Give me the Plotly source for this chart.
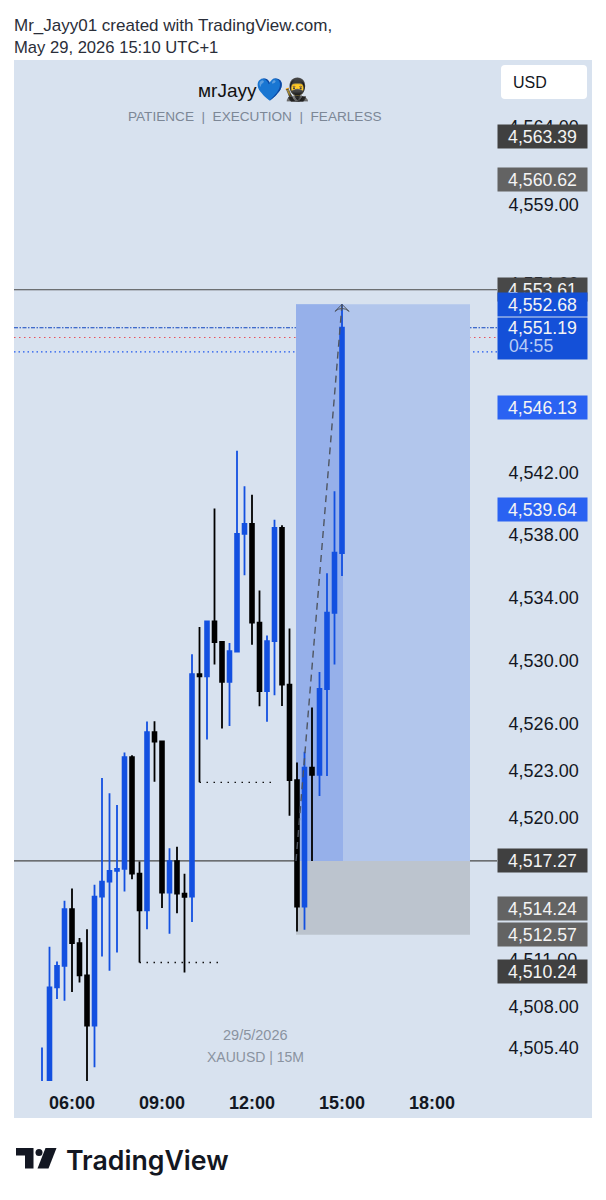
import pandas as pd
import plotly.graph_objects as go

W, H = 606, 1200
FONT = "Liberation Sans"
BG = "#D8E2EF"
BLUE = "#1350E0"

# ---- candle data (15 minute bars from 05:00) ----
start_time = "2026-05-29 05:00"
opens = [4502.0, 4502.5, 4509.23, 4510.60, 4514.20, 4512.04, 4509.99, 4506.79, 4515.00, 4515.96,
         4516.64, 4516.76, 4523.88, 4516.46, 4514.12, 4525.46, 4524.87, 4515.26, 4517.25, 4515.19,
         4515.00, 4529.15, 4529.02, 4532.51, 4531.20, 4528.66, 4530.59, 4538.08, 4538.71, 4532.43,
         4528.08, 4531.26, 4538.46, 4528.49, 4522.41, 4514.37, 4523.20, 4522.75, 4528.21, 4533.06,
         4536.85]
highs = [4505.40, 4511.81, 4510.88, 4514.73, 4515.51, 4512.36, 4512.93, 4515.75, 4522.54, 4521.57,
         4520.83, 4524.17, 4524.00, 4517.23, 4526.14, 4526.16, 4524.87, 4518.08, 4518.18, 4516.45,
         4530.42, 4532.16, 4532.57, 4539.69, 4531.20, 4531.13, 4543.37, 4541.10, 4540.56, 4534.48,
         4531.62, 4538.97, 4538.63, 4532.05, 4523.54, 4524.21, 4527.03, 4529.29, 4535.58, 4540.79,
         4552.68]
lows = [4500.0, 4500.0, 4508.49, 4508.38, 4508.93, 4509.54, 4502.0, 4504.15, 4511.19, 4510.29,
        4511.45, 4515.32, 4516.11, 4510.81, 4512.93, 4522.31, 4514.27, 4512.64, 4513.95, 4510.18,
        4513.38, 4522.27, 4525.00, 4529.76, 4525.70, 4525.86, 4530.59, 4535.45, 4531.03, 4527.11,
        4526.12, 4527.81, 4527.13, 4520.15, 4512.78, 4512.89, 4517.27, 4521.40, 4522.67, 4529.76,
        4535.39]
closes = [4503.0, 4509.23, 4510.60, 4514.20, 4512.04, 4509.99, 4506.79, 4515.00, 4515.96, 4516.64,
          4516.76, 4523.88, 4516.46, 4514.12, 4525.46, 4524.87, 4515.26, 4517.25, 4515.19, 4514.99,
          4529.15, 4529.02, 4532.51, 4531.20, 4528.66, 4530.61, 4538.08, 4538.71, 4532.43, 4528.08,
          4531.26, 4538.46, 4528.49, 4522.41, 4514.37, 4523.20, 4522.75, 4528.21, 4533.06, 4536.89,
          4551.19]

# ---- axes ----
price_ticks = [4564, 4559, 4554, 4542, 4538, 4534, 4530, 4526, 4523, 4520, 4511, 4508, 4505.4]
price_tick_text = ["4,564.00", "4,559.00", "4,554.00", "4,542.00", "4,538.00", "4,534.00", "4,530.00",
                   "4,526.00", "4,523.00", "4,520.00", "4,511.00", "4,508.00", "4,505.40"]
time_ticks = ["2026-05-29 06:00", "2026-05-29 09:00", "2026-05-29 12:00", "2026-05-29 15:00", "2026-05-29 18:00"]
time_tick_text = ["06:00", "09:00", "12:00", "15:00", "18:00"]
x_range = ["2026-05-29 04:04", "2026-05-29 20:10"]
y_range = [4503.27, 4568.225]

# ---- price tags: value, text, colour ----
tag_values = [4563.39, 4560.62, 4553.61, 4552.68, 4546.13, 4539.64, 4517.27, 4514.24, 4512.57, 4510.24]
tag_colors = ["#404040", "#636363", "#484848", "#1450D8", "#2A62F2", "#2A62F2",
              "#404040", "#636363", "#636363", "#404040"]
last_price = 4551.19
countdown = "04:55"

# ---- drawings ----
level_lines = [4553.61, 4517.27]
last_line = 4551.19
red_line = 4550.57
blue_dotted = 4549.66
pos_left = "2026-05-29 13:28"
pos_mid = "2026-05-29 15:02"
pos_right = "2026-05-29 19:16"
pos_top = 4552.68
pos_entry = 4517.27
pos_stop = 4512.57
dotted_a = ("2026-05-29 10:15", "2026-05-29 12:38", 4522.27)
dotted_b = ("2026-05-29 08:15", "2026-05-29 10:58", 4510.81)
arrow_times = ["2026-05-29 13:28", "2026-05-29 15:00"]
arrow_prices = [4517.27, 4552.68]


def px(x):
    return x / W


def py(y):
    return 1 - y / H


times = pd.date_range(start_time, periods=len(opens), freq="15min")

fig = go.Figure()
fig.add_trace(go.Candlestick(
    x=times, open=opens, high=highs, low=lows, close=closes,
    increasing=dict(line=dict(color=BLUE, width=1.8), fillcolor=BLUE),
    decreasing=dict(line=dict(color="#000000", width=1.8), fillcolor="#000000"),
    whiskerwidth=0, hoverinfo="skip", showlegend=False,
))
fig.add_trace(go.Scatter(
    x=arrow_times, y=arrow_prices, mode="lines",
    line=dict(color="#4F5560", width=1.4, dash="7px,5px"),
    hoverinfo="skip", showlegend=False,
))
fig.add_trace(go.Scatter(
    x=arrow_times[1:], y=arrow_prices[1:], mode="markers",
    marker=dict(symbol="arrow-wide-open", size=10, color="#4F5560", line=dict(color="#4F5560", width=1)),
    hoverinfo="skip", showlegend=False,
))

shapes = [
    dict(type="rect", xref="paper", yref="paper", x0=px(14), x1=px(592), y0=py(60), y1=py(1118),
         fillcolor=BG, line=dict(width=0), layer="below"),
    dict(type="rect", xref="x", yref="y", x0=pos_left, x1=pos_right, y0=pos_entry, y1=pos_top,
         fillcolor="#B2C6EC", line=dict(width=0), layer="below"),
    dict(type="rect", xref="x", yref="y", x0=pos_left, x1=pos_mid, y0=pos_entry, y1=pos_top,
         fillcolor="#96B0EA", line=dict(width=0), layer="below"),
    dict(type="rect", xref="x", yref="y", x0=pos_left, x1=pos_right, y0=pos_stop, y1=pos_entry,
         fillcolor="#BCC4CE", line=dict(width=0), layer="below"),
    dict(type="line", xref="x domain", yref="y", x0=0, x1=1, y0=last_line, y1=last_line,
         line=dict(color="#0F45C0", width=1.2, dash="4px,1.5px,1.5px,1.5px"), layer="below"),
    dict(type="line", xref="x domain", yref="y", x0=0, x1=1, y0=red_line, y1=red_line,
         line=dict(color="#E8505A", width=1.2, dash="1.5px,3.5px"), layer="below"),
    dict(type="line", xref="x domain", yref="y", x0=0, x1=1, y0=blue_dotted, y1=blue_dotted,
         line=dict(color="#1F58EE", width=1.2, dash="1.5px,3px"), layer="below"),
    dict(type="line", xref="x", yref="y", x0=dotted_a[0], x1=dotted_a[1], y0=dotted_a[2], y1=dotted_a[2],
         line=dict(color="#111111", width=1.3, dash="1.5px,5.5px"), layer="below"),
    dict(type="line", xref="x", yref="y", x0=dotted_b[0], x1=dotted_b[1], y0=dotted_b[2], y1=dotted_b[2],
         line=dict(color="#111111", width=1.3, dash="1.5px,5.5px"), layer="below"),
]
for level in level_lines:
    shapes.append(dict(type="line", xref="x domain", yref="y", x0=0, x1=1, y0=level, y1=level,
                       line=dict(color="#484848", width=1.2), layer="below"))

# TradingView logo and USD button
shapes += [
    dict(type="path", xref="paper", yref="paper", fillcolor="#131722", line=dict(width=0),
         path=f"M{px(16)},{py(1148)} L{px(33.5)},{py(1148)} L{px(33.5)},{py(1168.5)} L{px(25)},{py(1168.5)} "
              f"L{px(25)},{py(1155.5)} L{px(16)},{py(1155.5)} Z"),
    dict(type="circle", xref="paper", yref="paper", fillcolor="#131722", line=dict(width=0),
         x0=px(35.5), x1=px(42.5), y0=py(1149), y1=py(1156)),
    dict(type="path", xref="paper", yref="paper", fillcolor="#131722", line=dict(width=0),
         path=f"M{px(45.5)},{py(1148)} L{px(56.5)},{py(1148)} L{px(48.5)},{py(1168.5)} L{px(37.5)},{py(1168.5)} Z"),
    dict(type="path", xref="paper", yref="paper", fillcolor="#FFFFFF", line=dict(width=0),
         path=f"M{px(505)},{py(65)} L{px(583)},{py(65)} Q{px(587)},{py(65)} {px(587)},{py(69)} "
              f"L{px(587)},{py(95)} Q{px(587)},{py(99)} {px(583)},{py(99)} L{px(505)},{py(99)} "
              f"Q{px(501)},{py(99)} {px(501)},{py(95)} L{px(501)},{py(69)} Q{px(501)},{py(65)} {px(505)},{py(65)} Z"),
]


def text(x, y, s, size, color, anchor="left", family=FONT, weight="normal"):
    return dict(xref="paper", yref="paper", x=px(x), y=py(y), text=s, showarrow=False,
                xanchor=anchor, yanchor="middle", font=dict(family=family, size=size, color=color, weight=weight))


SEP = "\u00a0\u00a0|\u00a0\u00a0"
annotations = [
    text(12, 25, "Mr_Jayy01 created with TradingView.com,", 17, "#2A2E39"),
    text(12, 47, "May 29, 2026 15:10 UTC+1", 16.6, "#2A2E39"),
    text(254, 90, "мrJayy<span style='font-size:22px'>💙🥷</span>", 19, "#111111", "center"),
    text(254.5, 116, "PATIENCE" + SEP + "EXECUTION" + SEP + "FEARLESS", 13.6, "#7C8796", "center"),
    text(255, 1035, "29/5/2026", 14.5, "#8A93A0", "center"),
    text(255, 1057, "XAUUSD | 15M", 14, "#8A93A0", "center"),
    text(511, 82, "USD", 16, "#131722"),
    text(64, 1160, "TradingView", 26.7, "#131722", family="Inter", weight=600),
]

for value, color in zip(tag_values, tag_colors):
    annotations.append(dict(
        xref="paper", yref="y", x=px(497), y=value, xanchor="left", yanchor="middle",
        width=89, height=23, borderpad=0, bgcolor=color, showarrow=False,
        text=f"{value:,.2f}", align="center", font=dict(family=FONT, size=17.7, color="#F4F4F4"),
    ))
annotations.append(dict(
    xref="paper", yref="y", x=px(497), y=last_price, xanchor="left", yanchor="top", yshift=11,
    width=89, height=41, borderpad=0, bgcolor="#1450D8", showarrow=False,
    text="\u00a0", align="center", font=dict(family=FONT, size=17.7, color="#F4F4F4"),
))
annotations.append(dict(
    xref="paper", yref="y", x=px(497), y=last_price, xanchor="left", yanchor="middle",
    width=89, height=23, borderpad=0, showarrow=False,
    text=f"{last_price:,.2f}", align="center", font=dict(family=FONT, size=17.7, color="#F4F4F4"),
))
annotations.append(dict(
    xref="paper", yref="y", x=px(507), y=last_price, xanchor="left", yanchor="middle", yshift=-18,
    showarrow=False, text=countdown, font=dict(family=FONT, size=17.7, color="#B8CBF5"),
))

fig.update_layout(
    width=W, height=H, autosize=False,
    margin=dict(l=0, r=0, t=0, b=0),
    paper_bgcolor="#FFFFFF", plot_bgcolor="rgba(0,0,0,0)",
    boxgap=0.28,
    showlegend=False,
    shapes=shapes, annotations=annotations,
    xaxis=dict(
        domain=[px(14), px(497)], range=x_range, type="date",
        tickmode="array", tickvals=time_ticks, ticktext=time_tick_text,
        tickfont=dict(family=FONT, size=18, color="#131722", weight="bold"),
        showgrid=False, zeroline=False, showline=False, ticks="outside", ticklen=5,
        tickcolor="rgba(0,0,0,0)", rangeslider=dict(visible=False), fixedrange=True,
    ),
    yaxis=dict(
        domain=[py(1081), py(60)], range=y_range, side="right",
        tickmode="array", tickvals=price_ticks, ticktext=price_tick_text,
        tickfont=dict(family=FONT, size=18, color="#131722"),
        showgrid=False, zeroline=False, showline=False, ticks="outside", ticklen=7,
        tickcolor="rgba(0,0,0,0)", fixedrange=True,
    ),
)

fig.write_html("out.html", config=dict(displayModeBar=False),
               post_script="document.body.style.margin='0';")
